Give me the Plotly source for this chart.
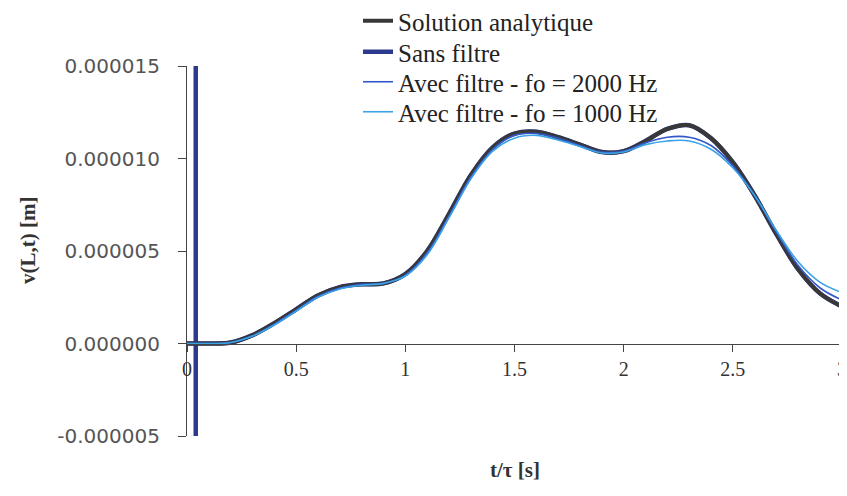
import plotly.graph_objects as go

# time axis (t/tau)
t = [0.0, 0.1, 0.2, 0.3, 0.4, 0.5, 0.6, 0.7, 0.8, 0.9, 1.0,
     1.1, 1.2, 1.3, 1.4, 1.5, 1.6, 1.7, 1.8, 1.9, 2.0,
     2.1, 2.2, 2.3, 2.4, 2.5, 2.6, 2.7, 2.8, 2.9, 3.0]

# displacements in micrometres (x 1e-6 m)
analytique = [0.0, 0.0, 0.05, 0.45, 1.1, 1.85, 2.6, 3.05, 3.2, 3.25, 3.75,
              5.0, 7.0, 9.1, 10.6, 11.35, 11.45, 11.15, 10.75, 10.35, 10.4,
              10.95, 11.6, 11.8, 11.1, 9.8, 8.0, 5.9, 4.0, 2.7, 2.0]

sans_filtre = [0.0, 0.0, 0.05, 0.45, 1.1, 1.85, 2.6, 3.05, 3.2, 3.25, 3.75,
               5.0, 7.0, 9.1, 10.6, 11.35, 11.45, 11.15, 10.75, 10.35, 10.4,
               10.95, 11.6, 11.8, 11.1, 9.8, 8.0, 5.9, 4.0, 2.7, 2.0]
# numerical spike right after t = 0 (unfiltered), far beyond the axis range
t_spike = [0.04, 0.0401]
v_spike = [150.0, -150.0]

filtre_2000 = [0.0, 0.0, 0.05, 0.4, 1.05, 1.8, 2.55, 3.0, 3.2, 3.25, 3.7,
               4.9, 6.9, 9.0, 10.5, 11.25, 11.35, 11.1, 10.7, 10.35, 10.4,
               10.85, 11.15, 11.15, 10.7, 9.6, 8.0, 6.0, 4.2, 3.0, 2.35]

filtre_1000 = [0.0, 0.0, 0.05, 0.4, 1.0, 1.75, 2.5, 2.95, 3.15, 3.25, 3.65,
               4.8, 6.8, 8.9, 10.4, 11.1, 11.25, 11.0, 10.65, 10.3, 10.35,
               10.75, 10.95, 10.95, 10.5, 9.5, 8.0, 6.1, 4.4, 3.3, 2.75]

x_ticks = [0, 0.5, 1, 1.5, 2, 2.5, 3]
x_ticktext = ["0", "0.5", "1", "1.5", "2", "2.5", "3"]
y_ticks = [-5e-6, 0, 5e-6, 10e-6, 15e-6]
y_ticktext = ["-0.000005", "0.000000", "0.000005", "0.000010", "0.000015"]

names = ["Solution analytique", "Sans filtre",
         "Avec filtre - fo = 2000 Hz", "Avec filtre - fo = 1000 Hz"]

def m(vals):
    return [None if v is None else v * 1e-6 for v in vals]

# spike segment, gap, then the smooth response
t_sans = t_spike + [None] + t
v_sans = v_spike + [None] + sans_filtre

fig = go.Figure()
fig.add_trace(go.Scatter(x=t_sans, y=m(v_sans), mode="lines", name=names[1],
                         line=dict(color="#2C3A8E", width=4.5, shape="spline", smoothing=1),
                         connectgaps=False, legend="legend2"))
fig.add_trace(go.Scatter(x=t, y=m(analytique), mode="lines", name=names[0],
                         line=dict(color="#383838", width=4, shape="spline", smoothing=1),
                         legend="legend"))
fig.add_trace(go.Scatter(x=t, y=m(filtre_2000), mode="lines", name=names[2],
                         line=dict(color="#3356C8", width=1.6, shape="spline", smoothing=1),
                         legend="legend3"))
fig.add_trace(go.Scatter(x=t, y=m(filtre_1000), mode="lines", name=names[3],
                         line=dict(color="#3AA2E6", width=1.6, shape="spline", smoothing=1),
                         legend="legend4"))

# page offset of the figure (browser body margin)
OFF = 8
W, H = 847 - OFF, 496 - OFF
# plot area in page pixels
PL, PR, PT, PB = 187, 842, 66, 436
def px(xp):
    return (xp - PL) / (PR - PL)
def py(yp):
    return (PB - yp) / (PB - PT)

serif = "Liberation Serif"
leg_rows = [21, 52, 82, 112]   # row centres (page px)
def leg(row):
    return dict(x=px(358), y=py(row), xanchor="left", yanchor="middle",
                bgcolor="rgba(0,0,0,0)",
                font=dict(family=serif, size=25, color="#222"))

fig.update_layout(
    width=W, height=H,
    margin=dict(l=PL - OFF, r=W - (PR - OFF), t=PT - OFF, b=H - (PB - OFF), autoexpand=False),
    paper_bgcolor="white", plot_bgcolor="white",
    showlegend=True,
    legend=leg(leg_rows[0]),
    legend2=leg(leg_rows[1]),
    legend3=leg(leg_rows[2]),
    legend4=leg(leg_rows[3]),
    xaxis=dict(range=[0, 3], tickvals=x_ticks, ticktext=x_ticktext,
               anchor="free", position=0.25, showgrid=False, zeroline=False,
               showline=True, linecolor="#444", linewidth=1.2,
               ticks="outside", ticklen=7, tickcolor="#444",
               tickfont=dict(family=serif, size=20, color="#333"),
               ticklabelstandoff=0, automargin=False),
    yaxis=dict(range=[-5e-6, 15e-6], tickvals=y_ticks, ticktext=y_ticktext,
               showgrid=False, zeroline=False,
               showline=True, linecolor="#444", linewidth=1.2,
               ticks="outside", ticklen=8, tickcolor="#444",
               tickfont=dict(family="DejaVu Sans", size=20, color="#555"),
               ticklabelstandoff=14, automargin=False),
    annotations=[
        dict(text="<b>t/τ [s]</b>", xref="paper", yref="paper",
             x=px(515), y=py(470), showarrow=False,
             xanchor="center", yanchor="middle",
             font=dict(family=serif, size=21, color="#333")),
        dict(text="<b>v(L,t) [m]</b>", xref="paper", yref="paper",
             x=px(28), y=py(241), showarrow=False, textangle=-90,
             xanchor="center", yanchor="middle",
             font=dict(family=serif, size=21, color="#333")),
    ],
)

fig.write_html("out.html")
